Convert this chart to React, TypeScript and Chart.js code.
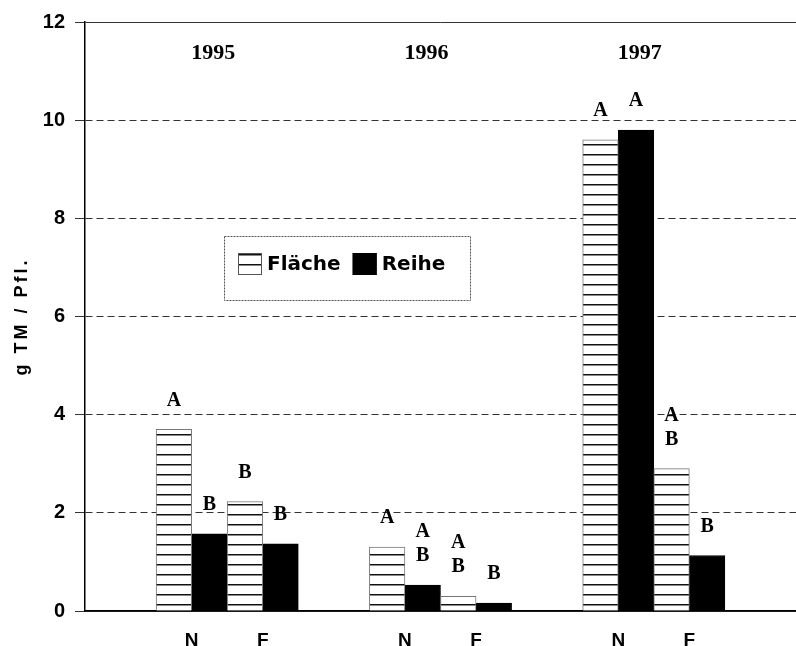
import { useEffect, useRef } from "react";
import { Chart, registerables } from "chart.js";

Chart.register(...registerables);

// ---- data ----
const categories = ["", "N", "F", "", "N", "F", "", "N", "F", ""];
const years = ["1995", "1996", "1997"];
const seriesNames = ["Fläche", "Reihe"];
const flaeche = [null, 3.7, 2.23, null, 1.3, 0.3, null, 9.6, 2.9, null];
const reihe = [null, 1.57, 1.37, null, 0.53, 0.16, null, 9.8, 1.13, null];
const flaecheLetters = [[], ["A"], ["B"], [], ["A"], ["A", "B"], [], ["A"], ["A", "B"], []];
const reiheLetters = [[], ["B"], ["B"], [], ["A", "B"], ["B"], [], ["A"], ["B"], []];
const yTicks = [0, 2, 4, 6, 8, 10, 12];
const yTitle = "g TM / Pfl.";

export default function App() {
  const ref = useRef<HTMLCanvasElement>(null);

  useEffect(() => {
    document.body.style.margin = "0";
    const canvas = ref.current!;
    const ctx = canvas.getContext("2d")!;

    const tile = document.createElement("canvas");
    tile.width = 8;
    tile.height = 10;
    const t = tile.getContext("2d")!;
    t.fillStyle = "#fff";
    t.fillRect(0, 0, 8, 10);
    t.fillStyle = "#111";
    t.fillRect(0, 4, 8, 1);
    t.fillStyle = "#888";
    t.fillRect(0, 5, 8, 1);
    const stripe = ctx.createPattern(tile, "repeat")!;

    const letterSets = [flaecheLetters, reiheLetters];

    const decor = {
      id: "decor",
      afterDatasetsDraw(chart: any) {
        const c = chart.ctx as CanvasRenderingContext2D;
        const area = chart.chartArea;
        const xs = chart.scales.x;
        c.save();
        c.fillStyle = "#000";
        c.textAlign = "center";
        c.textBaseline = "middle";

        // significance letters
        c.font = "bold 20px 'Liberation Serif'";
        chart.data.datasets.forEach((_ds: any, di: number) => {
          const meta = chart.getDatasetMeta(di);
          letterSets[di].forEach((arr, j) => {
            const bar = meta.data[j];
            if (!bar || !arr.length) return;
            arr.forEach((L, k) => {
              const y = bar.y - 29 - (arr.length - 1 - k) * 24;
              c.fillText(L, bar.x, y);
            });
          });
        });

        // year labels
        c.font = "bold 22px 'Liberation Serif'";
        let yi = 0;
        categories.forEach((cat, i) => {
          if (cat === "N") {
            const x = (xs.getPixelForValue(i) + xs.getPixelForValue(i + 1)) / 2 - 14;
            c.fillText(years[yi++], x, area.top + 31);
          }
        });

        // legend box
        const lx = 224, ly = 236, lw = 246, lh = 64;
        c.fillStyle = "#fff";
        c.fillRect(lx, ly, lw, lh);
        c.setLineDash([2, 1]);
        c.strokeStyle = "#555";
        c.lineWidth = 1;
        c.strokeRect(lx + 0.5, ly + 0.5, lw, lh);
        c.setLineDash([]);
        c.font = "bold 20px 'DejaVu Sans'";
        c.textAlign = "left";
        const ds = chart.data.datasets;
        let x = 238;
        const cy = ly + lh / 2 - 4;
        ds.forEach((d: any, i: number) => {
          c.fillStyle = d.backgroundColor;
          c.fillRect(x, cy - 11, 24, 22);
          c.strokeStyle = i === 0 ? "#555" : "#000";
          c.strokeRect(x + 0.5, cy - 10.5, 23, 21);
          c.fillStyle = "#000";
          c.fillText(d.label, x + 29, cy + 1);
          x += 29 + c.measureText(d.label).width + 12;
        });

        // y axis title
        c.save();
        c.translate(22, (area.top + area.bottom) / 2);
        c.rotate(-Math.PI / 2);
        c.textAlign = "center";
        c.font = "bold 18px 'Liberation Sans'";
        (c as any).letterSpacing = "3px";
        c.fillStyle = "#000";
        c.fillText(yTitle, 0, 0);
        c.restore();

        c.restore();
      },
    };

    const chart = new Chart(canvas, {
      type: "bar",
      data: {
        labels: categories,
        datasets: [
          {
            label: seriesNames[0],
            data: flaeche,
            backgroundColor: stripe as any,
            borderColor: "#777",
            borderWidth: 1,
            categoryPercentage: 1,
            barPercentage: 1,
          },
          {
            label: seriesNames[1],
            data: reihe,
            backgroundColor: "#000",
            borderColor: "#000",
            borderWidth: 1,
            categoryPercentage: 1,
            barPercentage: 1,
          },
        ],
      },
      options: {
        animation: false,
        responsive: false,
        maintainAspectRatio: false,
        layout: { padding: { top: 15, right: 0, left: 0, bottom: 0 } },
        plugins: { legend: { display: false }, tooltip: { enabled: false } },
        scales: {
          x: {
            grid: { display: false },
            border: { color: "#000", width: 1.5 },
            ticks: {
              color: "#000",
              font: { family: "Liberation Sans", weight: "bold", size: 19 },
              padding: 10,
            },
            afterFit: (s: any) => {
              s.height = 35;
            },
          },
          y: {
            min: 0,
            max: 12,
            afterBuildTicks: (s: any) => {
              s.ticks = yTicks.map((v) => ({ value: v }));
            },
            ticks: {
              color: "#000",
              font: { family: "Liberation Sans", weight: "bold", size: 20 },
              padding: 10,
            },
            grid: {
              color: "#333",
              lineWidth: 1,
              tickLength: 10,
              tickColor: "#333",
              tickBorderDash: [],
            } as any,
            border: {
              color: "#000",
              width: 1.5,
              dash: (c: any) =>
                c.tick && (c.tick.value === 0 || c.tick.value === 12) ? [] : [7, 4],
            } as any,
            afterFit: (s: any) => {
              s.width = 85;
            },
          },
        },
      },
      plugins: [decor],
    });

    return () => chart.destroy();
  }, []);

  return (
    <div style={{ width: 796, height: 646 }}>
      <canvas ref={ref} width={796} height={646} style={{ display: "block" }} />
    </div>
  );
}
